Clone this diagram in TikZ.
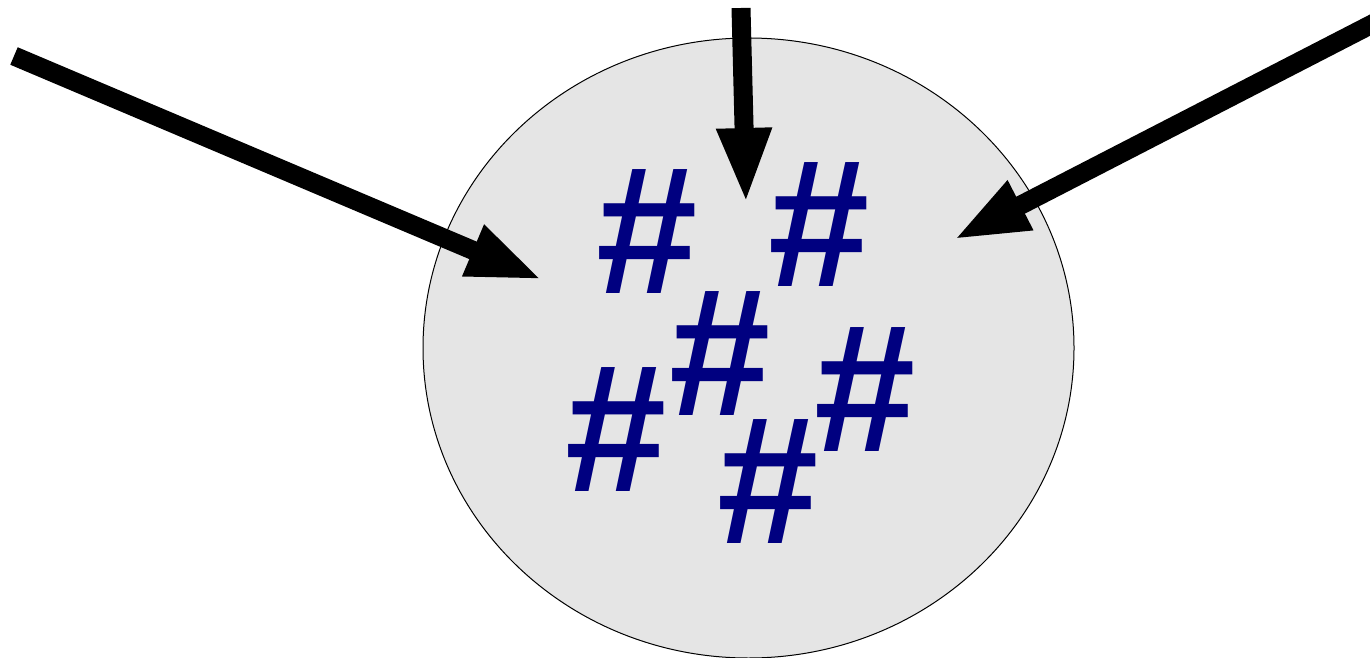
\documentclass[tikz,border=0pt]{standalone}
\usepackage{fontspec}
\setmainfont{Liberation Sans}
\usetikzlibrary{arrows.meta, shapes.geometric}
\definecolor{hashblue}{RGB}{0,0,128}
\definecolor{cellgray}{RGB}{229,229,229}

\begin{document}
\begin{tikzpicture}[
        x=0.5pt, y=-0.5pt,
        cell/.style={ellipse, draw, line width=0.5pt, fill=cellgray, inner sep=0pt},
        tag/.style={text=hashblue, font=\bfseries\fontsize{91}{91}\selectfont, inner sep=0pt},
        arrow/.style={-{Triangle[length=38pt, width=25pt]}, line width=9.5pt}
    ]
        \useasboundingbox (0,0) rectangle (1370,658);

        \node[cell, minimum width=325.5pt, minimum height=310pt] (cell) at (748.5,348) {};

        \node[tag] (h1) at (647,232) {\#};
        \node[tag] (h2) at (819,225) {\#};
        \node[tag] (h3) at (720,354) {\#};
        \node[tag] (h4) at (616,430) {\#};
        \node[tag] (h5) at (865,390) {\#};
        \node[tag] (h6) at (768,482) {\#};

        \coordinate (srcL) at (14,56);
        \coordinate (dstL) at (543,280);
        \coordinate (srcT) at (741,8);
        \coordinate (dstT) at (746,204);
        \coordinate (srcR) at (1380,20);
        \coordinate (dstR) at (953,240);

        \draw[arrow] (srcL) -- (dstL);
        \draw[arrow] (srcT) -- (dstT);
        \draw[arrow] (srcR) -- (dstR);
    \end{tikzpicture}
\end{document}
